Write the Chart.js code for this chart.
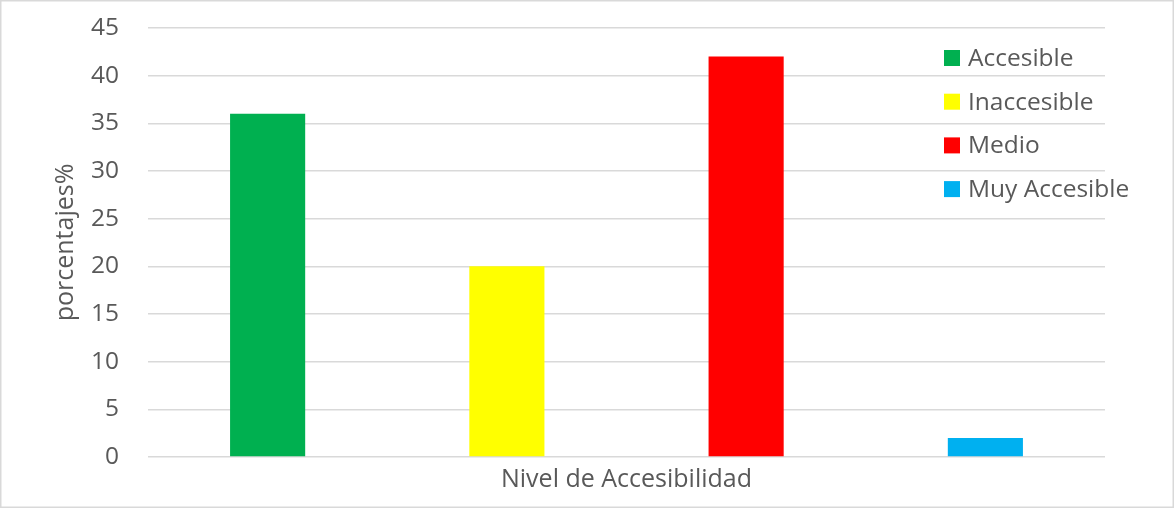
<!DOCTYPE html>
<html>
<head>
<meta charset="utf-8">
<script src="https://cdn.jsdelivr.net/npm/chart.js@4/dist/chart.umd.min.js"></script>
<style>
html,body{margin:0;padding:0;background:#fff;}
#wrap{width:1174px;height:508px;position:relative;}
</style>
</head>
<body>
<div id="wrap"><canvas id="c" width="1174" height="508"></canvas></div>
<script>
const categories = ['Nivel de Accesibilidad'];
const seriesNames = ['Accesible', 'Inaccesible', 'Medio', 'Muy Accesible'];
const seriesValues = [36, 20, 42, 2];
const seriesColors = ['#00B050', '#FFFF00', '#FF0000', '#00B0F0'];
const yTicks = [0, 5, 10, 15, 20, 25, 30, 35, 40, 45];

const FONT = '"Open Sans", Lato, sans-serif';
const FS = 24.5;
const TXT = '#595959';

const legendPlugin = {
  id: 'insideLegend',
  afterDraw(chart) {
    const ctx = chart.ctx;
    ctx.save();
    chart.data.datasets.forEach((ds, i) => {
      const cy = 58 + i * 43.7;
      ctx.fillStyle = ds.backgroundColor;
      ctx.fillRect(944, cy - 8, 16, 16);
      ctx.fillStyle = TXT;
      ctx.font = FS + 'px ' + FONT;
      ctx.textBaseline = 'middle';
      ctx.textAlign = 'left';
      ctx.fillText(ds.label, 968, cy + 1);
    });
    ctx.strokeStyle = '#d9d9d9';
    ctx.lineWidth = 1.5;
    ctx.strokeRect(0.75, 0.75, chart.width - 1.5, chart.height - 1.5);
    ctx.restore();
  }
};

new Chart(document.getElementById('c'), {
  type: 'bar',
  data: {
    labels: categories,
    datasets: seriesNames.map((n, i) => ({
      label: n,
      data: [seriesValues[i]],
      backgroundColor: seriesColors[i],
      borderWidth: 0,
      categoryPercentage: 1,
      barPercentage: 0.314
    }))
  },
  options: {
    responsive: false,
    animation: false,
    devicePixelRatio: 1,
    layout: { padding: { left: 0, right: 69, top: 28, bottom: 0 } },
    plugins: { legend: { display: false }, tooltip: { enabled: false } },
    scales: {
      x: {
        grid: { display: false, drawTicks: false },
        border: { display: false },
        ticks: { color: TXT, font: { family: FONT, size: 25 }, padding: 8 },
        afterFit(s) { s.height = 51; }
      },
      y: {
        min: 0, max: 45,
        afterBuildTicks(s) { s.ticks = yTicks.map(v => ({ value: v })); },
        grid: { color: '#d9d9d9', lineWidth: 1.5, drawTicks: false },
        border: { display: false },
        ticks: { color: TXT, font: { family: FONT, size: FS }, padding: 29 },
        title: { display: true, text: 'porcentajes%', color: TXT, font: { family: FONT, size: 25 }, padding: { top: 51, bottom: 0 } },
        afterFit(s) { s.width = 148; s.paddingTop = 0; s.paddingBottom = 0; }
      }
    }
  },
  plugins: [legendPlugin]
});
</script>
</body>
</html>
